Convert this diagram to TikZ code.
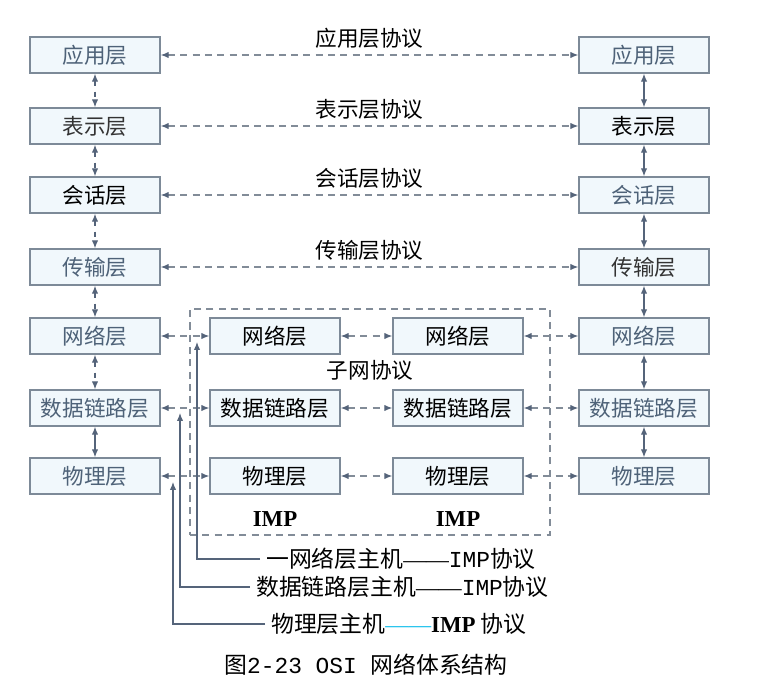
\documentclass[tikz,border=0pt]{standalone}
\usepackage{fontspec}
\setmainfont{Noto Sans CJK SC}
\newfontfamily\monofont{Liberation Mono}
\newfontfamily\serifimp{Liberation Serif}
\usetikzlibrary{positioning,arrows.meta}
\definecolor{boxline}{RGB}{125,138,152}
\definecolor{boxfill}{RGB}{241,248,252}
\definecolor{arrowcol}{RGB}{85,100,122}
\definecolor{dashgray}{RGB}{130,140,152}
\definecolor{layertext}{RGB}{78,98,120}
\definecolor{dashcyan}{RGB}{20,190,235}

\begin{document}
\begin{tikzpicture}[
    >={Latex[length=4.5pt,width=3.6pt]},
    layer/.style={draw=boxline, fill=boxfill, line width=0.8pt, minimum width=2.6cm, minimum height=0.72cm, inner sep=0pt, text=layertext, font=\fontsize{12.3}{14}\selectfont},
    peer/.style={{Latex[length=4.5pt,width=3.6pt,color=arrowcol]}-{Latex[length=4.5pt,width=3.6pt,color=arrowcol]}, draw=dashgray, line width=0.6pt, dash pattern=on 4pt off 3pt},
    stack/.style={<->, draw=arrowcol, line width=0.6pt},
    protolbl/.style={midway, above, font=\fontsize{12.3}{14}\selectfont},
    impname/.style={font=\fontsize{13}{15}\serifimp\bfseries},
    host/.style={->, draw=arrowcol, line width=0.6pt},
    hosttext/.style={anchor=west, font=\fontsize{13}{15}\selectfont}]
    \useasboundingbox (0,0) rectangle (15.62,13.96);

    % Host A
    \node[layer] (appL) at (1.90,12.86) {应用层};
    \node[layer, text=black!80] (presL) at (1.90,11.44) {表示层};
    \node[layer, text=black] (sessL) at (1.90,10.06) {会话层};
    \node[layer] (transL) at (1.90,8.62) {传输层};
    \node[layer] (netL) at (1.90,7.24) {网络层};
    \node[layer] (linkL) at (1.90,5.80) {数据链路层};
    \node[layer] (phyL) at (1.90,4.44) {物理层};

    % Host B
    \node[layer] (appR) at (12.88,12.86) {应用层};
    \node[layer, text=black] (presR) at (12.88,11.44) {表示层};
    \node[layer] (sessR) at (12.88,10.06) {会话层};
    \node[layer, text=black!80] (transR) at (12.88,8.62) {传输层};
    \node[layer] (netR) at (12.88,7.24) {网络层};
    \node[layer] (linkR) at (12.88,5.80) {数据链路层};
    \node[layer] (phyR) at (12.88,4.44) {物理层};

    % IMPs
    \node[layer, text=black] (netA) at (5.50,7.24) {网络层};
    \node[layer, text=black] (linkA) at (5.50,5.80) {数据链路层};
    \node[layer, text=black] (phyA) at (5.50,4.44) {物理层};
    \node[layer, text=black] (netB) at (9.16,7.24) {网络层};
    \node[layer, text=black] (linkB) at (9.16,5.80) {数据链路层};
    \node[layer, text=black] (phyB) at (9.16,4.44) {物理层};
    \node[impname, below=0.22cm of phyA] (impA) {IMP};
    \node[impname, below=0.22cm of phyB] (impB) {IMP};

    % Subnet
    \node[draw=dashgray, line width=0.6pt, dash pattern=on 4pt off 3pt, minimum width=7.2cm, minimum height=4.52cm, inner sep=0pt] (subnet) at (7.40,5.52) {};
    \node[font=\fontsize{12.3}{14}\selectfont] (subproto) at (7.40,6.56) {子网协议};

    % Layer stacks
    \draw[stack, dashed] (appL) -- (presL);
    \draw[stack, dashed] (presL) -- (sessL);
    \draw[stack, dashed] (sessL) -- (transL);
    \draw[stack, dashed] (transL) -- (netL);
    \draw[stack, dashed] (netL) -- (linkL);
    \draw[stack] (linkL) -- (phyL);
    \draw[stack] (appR) -- (presR);
    \draw[stack] (presR) -- (sessR);
    \draw[stack] (sessR) -- (transR);
    \draw[stack] (transR) -- (netR);
    \draw[stack] (netR) -- (linkR);
    \draw[stack] (linkR) -- (phyR);

    % Peer protocols
    \draw[peer] (appL) -- (appR) node[protolbl] {应用层协议};
    \draw[peer] (presL) -- (presR) node[protolbl] {表示层协议};
    \draw[peer] (sessL) -- (sessR) node[protolbl] {会话层协议};
    \draw[peer] (transL) -- (transR) node[protolbl] {传输层协议};
    \draw[peer] (netL) -- (netA);
    \draw[peer] (netA) -- (netB);
    \draw[peer] (netB) -- (netR);
    \draw[peer] (linkL) -- (linkA);
    \draw[peer] (linkA) -- (linkB);
    \draw[peer] (linkB) -- (linkR);
    \draw[peer] (phyL) -- (phyA);
    \draw[peer] (phyA) -- (phyB);
    \draw[peer] (phyB) -- (phyR);

    % Host--IMP protocols
    \coordinate (tipNet) at (3.94,7.12);
    \coordinate (tipLink) at (3.60,5.70);
    \coordinate (tipPhy) at (3.46,4.32);
    \node[hosttext] (hostNet) at (5.20,2.78) {一网络层主机{\serifimp ——}{\monofont IMP}协议};
    \node[hosttext] (hostLink) at (5.00,2.22) {数据链路层主机{\serifimp ——}{\monofont IMP}协议};
    \node[hosttext] (hostPhy) at (5.30,1.48) {物理层主机\textcolor{dashcyan}{\serifimp ——}{\serifimp\bfseries IMP} 协议};
    \draw[host] (hostNet.west) -| (tipNet);
    \draw[host] (hostLink.west) -| (tipLink);
    \draw[host] (hostPhy.west) -| (tipPhy);

    % Caption
    \node[font=\fontsize{13}{15}\selectfont] (caption) at (7.32,0.66) {图{\monofont 2-23 OSI }网络体系结构};
\end{tikzpicture}
\end{document}
